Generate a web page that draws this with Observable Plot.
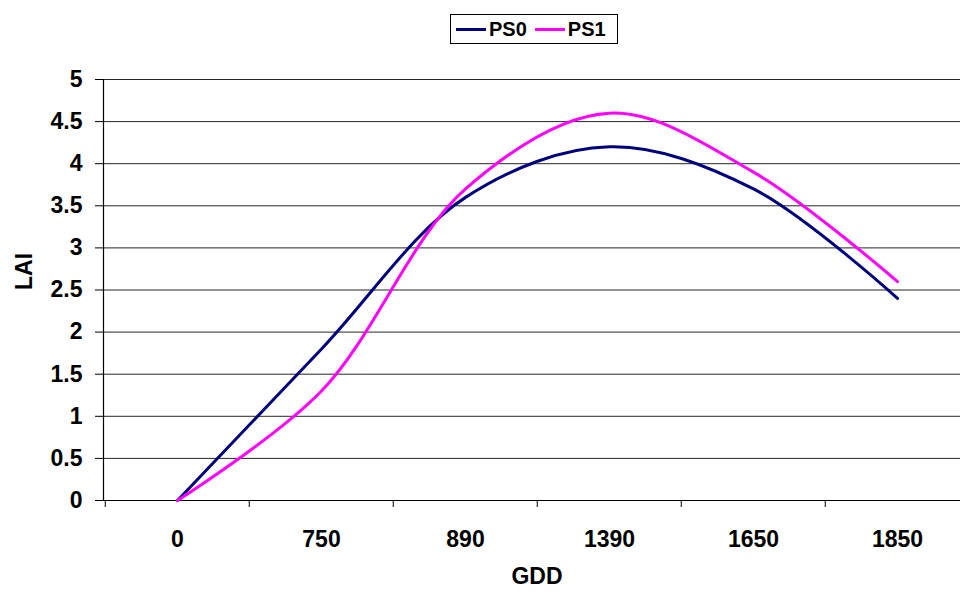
<!DOCTYPE html>
<html>
<head>
<meta charset="utf-8">
<script src="https://cdn.jsdelivr.net/npm/d3@7"></script>
<script src="https://cdn.jsdelivr.net/npm/@observablehq/plot@0.6"></script>
<style>
  html, body { margin: 0; padding: 0; background: #fff; overflow: hidden; }
  #wrap { width: 960px; height: 592px; position: relative; font-family: "Liberation Sans", Arial, sans-serif; }
  #legend { height: 50px; position: relative; }
  #legend .box { position: absolute; left: 450px; top: 14px; width: 166px; height: 28px; border: 1px solid #000;
    display: flex; align-items: center; font-weight: bold; font-size: 20px; box-sizing: content-box; }
  #legend .item { display: flex; align-items: center; margin-left: 5px; }
  #legend .item + .item { margin-left: 8px; }
  #legend .sw { width: 30px; height: 3px; margin-right: 3px; }
  svg { overflow: hidden; }
</style>
</head>
<body>
<div id="wrap">
  <div id="legend"></div>
  <div id="chart"></div>
</div>
<script>
// Data
const categories = ["0", "750", "890", "1390", "1650", "1850"];
const seriesNames = ["PS0", "PS1"];
const ps0 = [0, 1.8, 3.6, 4.2, 3.7, 2.4];
const ps1 = [0, 1.3, 3.7, 4.6, 3.9, 2.6];
const yTicks = [0, 0.5, 1, 1.5, 2, 2.5, 3, 3.5, 4, 4.5, 5];
const colors = ["#000080", "#ff00ff"];

const rows = [];
categories.forEach((c, i) => {
  rows.push({gdd: c, lai: ps0[i], series: "PS0"});
  rows.push({gdd: c, lai: ps1[i], series: "PS1"});
});

// Legend
const box = document.createElement("div");
box.className = "box";
seriesNames.forEach((s, i) => {
  const it = document.createElement("div");
  it.className = "item";
  const sw = document.createElement("div");
  sw.className = "sw";
  sw.style.background = colors[i];
  const t = document.createElement("span");
  t.textContent = s;
  it.appendChild(sw); it.appendChild(t);
  box.appendChild(it);
});
document.getElementById("legend").appendChild(box);

const width = 960, height = 542;
const marginLeft = 103, marginRight = -10, marginTop = 29, marginBottom = 92;
const halfStep = (width - marginLeft - marginRight) / categories.length / 2;
const fs = 23;

const chart = Plot.plot({
  width, height, marginLeft, marginRight, marginTop, marginBottom,
  style: {fontFamily: "'Liberation Sans', Arial, sans-serif", fontSize: fs + "px", fontWeight: "bold", color: "#000", background: "#fff"},
  x: {type: "point", domain: categories, padding: 0.5, label: null},
  y: {domain: [0, 5], label: null},
  color: {domain: seriesNames, range: colors},
  marks: [
    Plot.gridY(yTicks.filter(d => d > 0), {stroke: "#000", strokeOpacity: 0.85, strokeWidth: 1}),
    Plot.ruleY([0], {stroke: "#000", strokeWidth: 1.2}),
    Plot.frame({anchor: "left", stroke: "#000", strokeWidth: 1.2}),
    Plot.axisY({ticks: yTicks, tickSize: 8, tickPadding: 13, tickFormat: d => String(d), label: null, fontSize: fs, fontWeight: "bold"}),
    Plot.axisX({tickSize: 7, dx: -halfStep, tickFormat: () => "", label: null}),
    Plot.axisX({tickSize: 0, tickPadding: 30, label: null, fontSize: fs, fontWeight: "bold"}),
    Plot.text(["LAI"], {frameAnchor: "left", dx: -79, rotate: -90, fontSize: fs, fontWeight: "bold"}),
    Plot.text(["GDD"], {frameAnchor: "bottom", dy: 83, fontSize: fs, fontWeight: "bold"}),
    Plot.line(rows, {x: "gdd", y: "lai", z: "series", stroke: "series", curve: "catmull-rom", strokeWidth: 3})
  ]
});
document.getElementById("chart").appendChild(chart);
</script>
</body>
</html>
